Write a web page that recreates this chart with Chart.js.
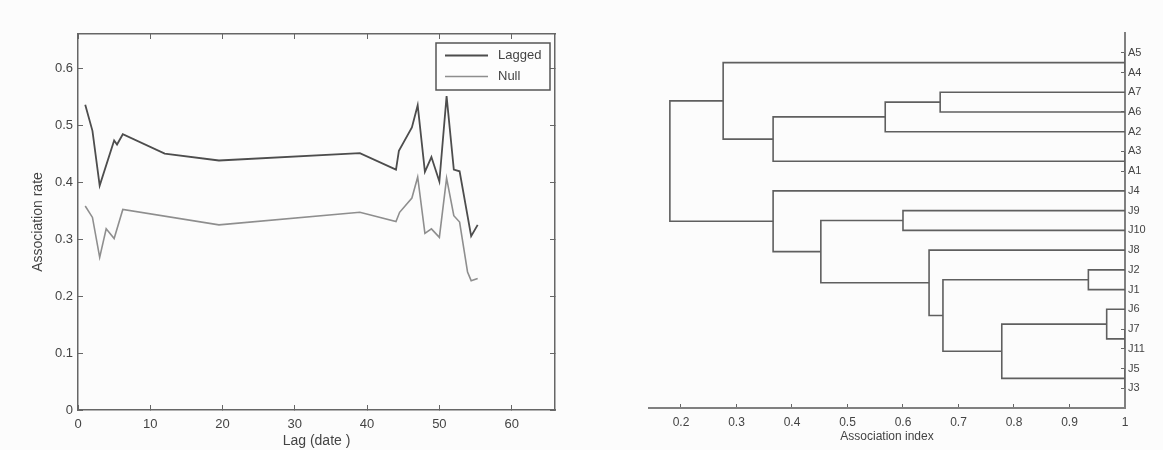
<!DOCTYPE html>
<html><head><meta charset="utf-8">
<script src="https://cdn.jsdelivr.net/npm/chart.js@4.4.1/dist/chart.umd.min.js"></script>
<style>
html,body{margin:0;padding:0;background:#fcfcfc;}
#wrap{position:relative;width:1163px;height:450px;overflow:hidden;background:#fcfcfc;}
.panel{position:absolute;top:0;height:450px;}
#p1{left:0;width:580px;}
#p2{left:580px;width:583px;}
</style></head><body>
<div id="wrap">
  <div class="panel" id="p1"><canvas id="c1"></canvas></div>
  <div class="panel" id="p2"><canvas id="c2"></canvas></div>
</div>
<script>
// ---------- Left panel data (association rate vs lag) ----------
const laggedX = [1, 2, 3, 5, 5.4, 6.2, 12, 19.5, 39, 44, 44.4, 46.2, 47, 48, 48.9, 50, 51, 52, 52.8, 54.4, 55.3];
const laggedY = [0.536, 0.490, 0.394, 0.473, 0.466, 0.484, 0.450, 0.438, 0.451, 0.422, 0.455, 0.496, 0.535, 0.418, 0.444, 0.401, 0.551, 0.422, 0.419, 0.305, 0.325];
const nullX = [1, 2, 3, 3.9, 5, 6.2, 19.5, 39, 44, 44.5, 46.2, 47, 48, 48.9, 50, 51, 52, 52.8, 53.9, 54.4, 55.3];
const nullY = [0.358, 0.338, 0.268, 0.318, 0.301, 0.352, 0.325, 0.347, 0.331, 0.347, 0.372, 0.409, 0.310, 0.318, 0.303, 0.407, 0.341, 0.330, 0.242, 0.227, 0.231];
const seriesNames = ['Lagged', 'Null'];
const lagAxisMax = 66;
const rateAxisMax = 0.66;

// ---------- Right panel data (dendrogram) ----------
const leafLabels = ['A5','A4','A7','A6','A2','A3','A1','J4','J9','J10','J8','J2','J1','J6','J7','J11','J5','J3'];
// merges: ids < 18 are leaves, id 18+k is merge k
const mergeA = [0, 5, 14, 16, 13, 11, 22, 23, 2, 10, 8, 26, 28, 29, 7, 18, 33];
const mergeB = [1, 6, 15, 17, 20, 12, 21, 24, 3, 25, 9, 4, 27, 19, 30, 31, 32];
const mergeHeight = [1.0, 1.0, 1.0, 1.0, 0.967, 0.934, 0.778, 0.672, 0.667, 0.647, 0.600, 0.568, 0.452, 0.366, 0.366, 0.276, 0.180];
const indexAxisMin = 0.1424;

const FONT = "'Liberation Sans', Arial, sans-serif";
const TXT = '#444';
const AX = '#666';

// ---------- Left chart ----------
const legendBox = {
  id: 'legendBox',
  afterDatasetsDraw(chart) {
    const ctx = chart.ctx, a = chart.chartArea;
    const w = 114, h = 47;
    const x0 = a.right - 5 - w, y0 = a.top + 9;
    ctx.save();
    ctx.fillStyle = '#fdfdfd';
    ctx.fillRect(x0, y0, w, h);
    ctx.strokeStyle = '#555';
    ctx.lineWidth = 1.5;
    ctx.strokeRect(x0, y0, w, h);
    ctx.font = '13px ' + FONT;
    ctx.textBaseline = 'middle';
    chart.data.datasets.forEach((ds, i) => {
      const yy = y0 + 12.5 + i * 21;
      ctx.strokeStyle = ds.borderColor;
      ctx.lineWidth = ds.borderWidth;
      ctx.beginPath(); ctx.moveTo(x0 + 9, yy); ctx.lineTo(x0 + 52, yy); ctx.stroke();
      ctx.fillStyle = TXT;
      ctx.fillText(ds.label, x0 + 62, yy);
    });
    ctx.restore();
  }
};

function boxAxis(pos, max, step, show, pad, extra) {
  return Object.assign({
    type: 'linear', position: pos, min: 0, max: max,
    ticks: { stepSize: step, includeBounds: false, display: show, color: TXT, padding: pad,
             font: { size: 13, family: FONT } },
    grid: { drawOnChartArea: false, tickLength: -5, color: AX, tickWidth: 1 },
    border: { display: true, color: AX, width: 1.5 }
  }, extra);
}

new Chart(document.getElementById('c1'), {
  type: 'scatter',
  data: {
    datasets: [
      { label: seriesNames[0], data: laggedX.map((x, i) => ({ x, y: laggedY[i] })),
        showLine: true, borderColor: '#4d4d4d', borderWidth: 1.8, pointRadius: 0, tension: 0, xAxisID: 'x', yAxisID: 'y' },
      { label: seriesNames[1], data: nullX.map((x, i) => ({ x, y: nullY[i] })),
        showLine: true, borderColor: '#8e8e8e', borderWidth: 1.6, pointRadius: 0, tension: 0, xAxisID: 'x', yAxisID: 'y' }
    ]
  },
  options: {
    responsive: true, maintainAspectRatio: false, animation: false,
    layout: { padding: { left: 30, top: 34, right: 25, bottom: 0 } },
    plugins: { legend: { display: false }, tooltip: { enabled: false } },
    scales: {
      x: boxAxis('bottom', lagAxisMax, 10, true, 12, {
        axis: 'x',
        title: { display: true, text: 'Lag (date )', color: TXT, font: { size: 14, family: FONT }, padding: { top: 0, bottom: 0 } },
        afterFit: s => { s.height = 40; }
      }),
      x2: boxAxis('top', lagAxisMax, 10, false, 0, { axis: 'x', afterFit: s => { s.height = 0; } }),
      y: boxAxis('left', rateAxisMax, 0.1, true, 10, {
        axis: 'y',
        title: { display: true, text: 'Association rate', color: TXT, font: { size: 14, family: FONT }, padding: { top: 0, bottom: 0 } },
        afterFit: s => { s.width = 48; }
      }),
      y2: boxAxis('right', rateAxisMax, 0.1, false, 0, { axis: 'y', afterFit: s => { s.width = 0; } })
    }
  },
  plugins: [legendBox]
});

// ---------- Right chart: dendrogram ----------
const nLeaf = leafLabels.length;
const nodeX = [], nodeY = [];
for (let i = 0; i < nLeaf; i++) { nodeX[i] = 1.0; nodeY[i] = i + 1; }
const linkSets = [];
for (let k = 0; k < mergeHeight.length; k++) {
  const a = mergeA[k], b = mergeB[k], h = mergeHeight[k];
  const id = nLeaf + k;
  nodeX[id] = h;
  nodeY[id] = (nodeY[a] + nodeY[b]) / 2;
  linkSets.push({
    data: [ { x: nodeX[a], y: nodeY[a] }, { x: h, y: nodeY[a] }, { x: h, y: nodeY[b] }, { x: nodeX[b], y: nodeY[b] } ],
    showLine: true, borderColor: '#5f5f5f', borderWidth: 1.6, pointRadius: 0, tension: 0
  });
}

new Chart(document.getElementById('c2'), {
  type: 'scatter',
  data: { datasets: linkSets },
  options: {
    responsive: true, maintainAspectRatio: false, animation: false,
    layout: { padding: { left: 69, top: 33, right: 0, bottom: 0 } },
    plugins: { legend: { display: false }, tooltip: { enabled: false } },
    scales: {
      x: {
        type: 'linear', position: 'bottom', min: indexAxisMin, max: 1.0,
        ticks: { stepSize: 0.1, includeBounds: false, color: TXT, padding: 11,
                 font: { size: 12, family: FONT }, callback: v => String(+v.toFixed(1)) },
        grid: { drawOnChartArea: false, tickLength: -4, color: AX },
        border: { display: true, color: '#808080', width: 2 },
        title: { display: true, text: 'Association index', color: TXT, font: { size: 12, family: FONT }, padding: { top: 0, bottom: 6 } },
        afterFit: s => { s.height = 42; }
      },
      y: {
        type: 'linear', position: 'right', min: 0, max: nLeaf + 1, reverse: true,
        afterBuildTicks: s => { s.ticks = leafLabels.map((_, i) => ({ value: i + 1 })); },
        ticks: { autoSkip: false, color: TXT, padding: 7, font: { size: 11, family: FONT },
                 callback: v => leafLabels[v - 1] },
        grid: { drawOnChartArea: false, tickLength: -4, color: AX },
        border: { display: true, color: '#808080', width: 2 },
        afterFit: s => { s.width = 38; }
      }
    }
  }
});
</script>
</body></html>
